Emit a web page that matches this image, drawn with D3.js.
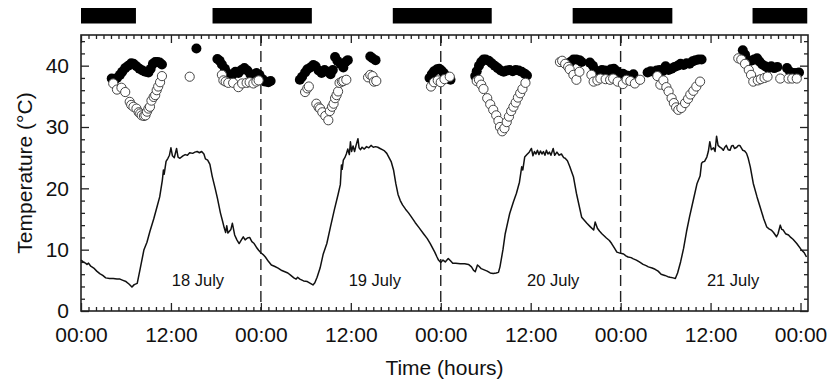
<!DOCTYPE html>
<html>
<head>
<meta charset="utf-8">
<script src="https://cdn.jsdelivr.net/npm/d3@7"></script>
<style>
  body { margin: 0; background: #fff; }
  text { font-family: "Liberation Sans", Arial, sans-serif; fill: #111; }
</style>
</head>
<body>
<svg id="chart" width="836" height="383"></svg>
<script>
// air temperature trace [hour, °C]
const airTemp = [
  [0,8.3],[0.3,8.0],[0.6,7.8],[0.8,7.6],[1.0,7.8],[1.3,7.3],[1.7,7.0],[2.1,6.5],[2.5,6.1],[2.9,5.8],[3.3,5.4],[3.8,5.3],[4.3,5.3],[4.8,5.2],[5.2,5.2],[5.6,5.0],[6.0,4.8],[6.4,4.4],[6.8,3.9],[7.1,4.3],[7.5,4.5],[7.9,6.9],[8.4,10.0],[8.8,11.2],[9.2,13.0],[9.7,15.0],[10.1,16.8],[10.5,18.6],[10.85,21.3],[11.0,23.0],[11.1,22.3],[11.35,24.4],[11.6,24.9],[11.8,25.4],[12.0,26.6],[12.2,25.3],[12.45,25.0],[12.75,26.5],[12.95,25.1],[13.2,24.9],[13.6,25.3],[13.9,25.5],[14.2,25.4],[14.5,25.8],[14.9,25.7],[15.2,25.9],[15.5,26.0],[15.8,25.8],[16.1,26.0],[16.4,25.6],[16.6,24.8],[16.9,24.6],[17.2,23.9],[17.5,22.0],[17.9,20.0],[18.2,18.4],[18.6,16.0],[18.9,14.6],[19.1,13.6],[19.3,12.8],[19.45,13.9],[19.6,12.7],[19.8,13.0],[20.0,13.3],[20.2,14.3],[20.5,12.4],[20.8,11.6],[21.1,11.0],[21.4,11.6],[21.65,12.1],[21.9,11.6],[22.2,11.9],[22.5,12.0],[22.8,11.3],[23.1,11.0],[23.4,10.4],[23.7,9.9],
  [24.0,9.5],[24.3,9.2],[24.6,8.8],[25.0,8.1],[25.4,7.5],[25.8,7.3],[26.3,7.0],[26.8,6.6],[27.2,6.4],[27.6,6.2],[28.0,5.8],[28.4,5.4],[28.7,5.2],[28.9,5.5],[29.2,5.2],[29.7,4.9],[30.2,4.8],[30.6,4.5],[30.95,4.25],[31.2,4.6],[31.5,5.5],[31.9,7.0],[32.3,9.2],[32.8,11.0],[33.3,13.8],[33.8,16.5],[34.3,19.0],[34.6,20.6],[34.75,23.8],[34.85,23.1],[35.0,24.6],[35.2,25.0],[35.4,25.6],[35.6,26.4],[35.8,25.5],[35.95,27.6],[36.1,26.0],[36.3,26.9],[36.5,26.0],[36.7,27.0],[36.95,28.1],[37.1,26.6],[37.3,26.3],[37.5,26.7],[37.8,26.4],[38.1,26.8],[38.4,26.6],[38.7,27.0],[39.0,26.7],[39.3,26.8],[39.6,26.7],[39.9,26.5],[40.2,26.3],[40.5,26.1],[40.8,25.7],[41.1,25.0],[41.4,24.3],[41.7,23.0],[42.0,20.8],[42.3,19.0],[42.6,18.0],[42.9,17.3],[43.3,16.6],[43.7,16.0],[44.1,15.3],[44.6,14.4],[45.1,13.6],[45.7,12.6],[46.2,11.8],[46.6,11.0],[46.9,10.3],[47.2,9.6],[47.5,8.8],[47.7,8.3],
  [48.0,7.9],[48.3,8.3],[48.6,8.0],[49.0,8.55],[49.3,8.2],[49.6,7.8],[50.0,7.8],[50.6,7.7],[51.2,7.7],[51.7,7.6],[52.1,7.2],[52.4,6.6],[52.6,6.4],[52.9,7.5],[53.1,7.3],[53.4,6.9],[53.8,6.7],[54.2,6.5],[54.6,6.2],[55.0,6.1],[55.4,6.2],[55.7,6.3],[55.9,7.2],[56.3,10.0],[56.6,12.6],[57.2,15.9],[57.7,17.8],[58.1,19.2],[58.5,21.0],[58.8,23.5],[58.95,23.0],[59.2,25.1],[59.5,25.5],[59.8,25.9],[60.1,26.5],[60.3,25.3],[60.5,26.0],[60.7,25.6],[60.9,26.2],[61.1,25.5],[61.3,26.1],[61.5,25.6],[61.7,26.0],[61.9,25.4],[62.1,26.2],[62.3,25.6],[62.5,25.9],[62.7,25.4],[63.0,26.5],[63.2,25.4],[63.5,25.9],[63.8,25.4],[64.1,25.6],[64.4,25.0],[64.6,24.9],[64.9,24.5],[65.2,23.6],[65.4,22.9],[65.7,21.9],[66.1,19.2],[66.8,15.3],[67.5,14.3],[67.9,13.8],[68.4,13.2],[68.6,14.5],[68.9,13.5],[69.2,13.0],[69.5,12.6],[70.1,11.9],[70.5,11.5],[70.8,11.0],[71.2,10.2],[71.5,9.6],
  [72.0,9.4],[72.4,9.3],[72.7,9.0],[73.0,8.8],[73.4,8.7],[73.7,8.5],[74.1,8.3],[74.5,8.0],[75.0,7.6],[75.4,7.4],[75.7,7.2],[76.2,7.0],[76.6,6.8],[77.0,6.5],[77.4,6.0],[77.9,5.8],[78.3,5.6],[78.6,5.5],[79.0,5.4],[79.3,5.3],[79.6,6.2],[80.0,8.0],[80.4,10.2],[80.8,13.0],[81.2,15.4],[81.7,18.1],[82.2,20.8],[82.6,22.0],[82.8,24.1],[82.95,24.3],[83.2,24.4],[83.5,25.1],[83.7,26.0],[83.9,27.6],[84.1,26.3],[84.4,26.6],[84.6,26.0],[84.8,28.5],[85.0,27.0],[85.25,26.7],[85.5,26.5],[85.7,26.2],[85.9,26.7],[86.1,27.0],[86.35,26.3],[86.6,26.2],[86.8,26.9],[87.0,27.0],[87.2,26.5],[87.5,26.7],[87.7,27.0],[87.9,27.0],[88.1,26.6],[88.3,26.2],[88.55,26.1],[88.8,25.7],[89.0,25.0],[89.3,23.5],[89.7,20.8],[90.2,18.6],[90.6,17.0],[91.1,15.0],[91.5,13.7],[91.8,13.4],[92.1,13.2],[92.4,12.8],[92.8,12.1],[93.0,12.6],[93.3,14.0],[93.5,13.3],[93.7,13.2],[94.0,12.6],[94.4,12.4],[94.7,12.0],[95.0,11.7],[95.5,11.0],[96.1,10.0],[96.5,9.5],[96.8,8.8]
];

// filled symbols [hour, °C]
const filledPts = [
  [4.1,37.9],[4.4,37.5],[4.8,38.0],[5.2,38.5],[5.5,39.0],[5.9,39.6],[6.3,40.0],[6.7,40.4],[7.0,40.3],[7.4,39.9],[7.8,39.5],[8.2,39.2],[8.6,39.0],[9.0,38.9],[9.3,39.5],[9.6,40.3],[9.9,40.6],[10.2,40.6],[10.5,40.5],[10.8,40.2],
  [15.4,42.8],
  [18.2,41.1],[18.5,40.8],[18.8,40.2],[19.2,39.5],[19.5,38.8],[19.9,38.0],[20.2,38.5],[20.6,39.0],[21.0,38.8],[21.4,39.3],[21.8,39.6],[22.2,39.2],[22.6,38.6],[23.0,38.5],[23.4,38.8],[23.8,38.5],[24.2,37.8],[24.6,37.4],[25.0,37.3],[25.3,37.5],
  [29.2,37.7],[29.5,38.2],[29.9,38.9],[30.2,39.4],[30.6,39.7],[31.0,40.1],[31.3,39.9],[31.7,39.2],[32.1,38.8],[32.5,39.3],[32.9,39.0],[33.3,38.6],[33.6,39.3],[33.9,41.4],[34.2,40.8],[34.6,40.3],[35.0,39.7],[35.3,40.6],[35.6,40.9],
  [38.6,41.5],[38.9,41.2],[39.3,40.9],
  [46.5,38.0],[46.8,38.6],[47.1,39.1],[47.5,39.4],[47.8,39.5],[48.1,39.2],[48.4,38.8],[48.7,38.3],[49.3,37.7],
  [52.6,38.3],[52.8,39.1],[53.1,40.0],[53.4,40.6],[53.7,41.0],[54.0,41.0],[54.4,40.8],[54.8,40.4],[55.2,40.0],[55.6,39.6],[56.0,39.2],[56.4,39.0],[56.8,39.2],[57.2,39.3],[57.6,39.1],[58.0,39.3],[58.4,39.2],[58.8,39.0],[59.2,38.7],[59.5,38.4],
  [65.3,40.6],[65.7,41.0],[66.1,41.0],[66.5,40.9],[66.8,40.6],
  [67.9,40.5],[68.3,40.0],[68.7,39.2],[69.1,38.9],[69.5,39.3],[69.9,39.2],[70.3,38.8],[70.7,39.4],[71.1,39.5],[71.5,39.1],[71.9,38.6],[72.3,38.7],[72.8,38.4],[73.3,38.3],[73.7,38.6],
  [75.6,38.9],[76.0,39.1],[76.4,39.0],[76.8,39.2],[77.2,39.3],[77.6,39.1],[78.0,39.9],[78.4,39.3],[78.8,39.5],[79.2,39.8],[79.6,40.0],[80.0,40.3],[80.4,40.1],[80.8,40.4],[81.2,40.3],[81.6,40.7],[82.0,40.9],[82.4,41.0],[82.8,41.0],
  [88.3,42.5],[88.6,41.8],[89.0,40.9],[89.4,40.8],[89.8,41.0],[90.2,41.2],[90.5,40.7],[90.9,40.2],[91.3,39.9],[91.7,39.6],[92.1,39.9],[92.5,39.6],[92.9,39.8],
  [94.2,39.6],[94.6,39.0],[95.0,38.8],[95.4,38.8],[95.8,38.9]
];

// open symbols [hour, °C]
const openPts = [
  [4.3,37.1],[4.8,36.1],[5.4,36.4],[5.9,35.7],[6.5,34.1],[6.7,33.6],[7.0,33.3],[7.4,33.0],[7.7,32.4],[7.9,32.2],[8.1,31.9],[8.4,31.8],[8.6,31.9],[8.8,32.5],[9.0,33.0],[9.2,33.3],[9.4,34.3],[9.7,34.9],[9.9,35.2],[10.1,36.0],[10.3,36.6],[10.55,37.3],[10.8,38.3],
  [14.5,38.2],
  [18.8,38.5],[19.0,37.6],[19.3,37.4],[19.65,37.2],[20.3,37.2],[21.0,36.5],[21.5,37.1],[22.1,37.2],[22.5,37.3],[23.0,37.1],[23.4,37.4],[23.7,37.6],
  [29.9,35.7],[30.2,36.3],[30.4,36.6],[31.4,33.8],[31.7,33.2],[31.9,33.0],[32.2,32.4],[32.6,31.8],[33.0,31.1],[33.2,32.6],[33.5,33.3],[33.7,33.8],[33.9,34.7],[34.1,35.2],[34.3,35.8],[34.5,37.2],[34.8,37.4],[35.0,37.5],[35.4,37.7],
  [38.3,38.1],[38.6,38.5],[38.9,38.3],[39.1,37.4],[39.4,37.5],
  [46.7,36.6],[47.1,37.3],[47.6,37.6],[48.0,37.3],[48.5,37.8],[49.2,38.2],
  [52.8,37.5],[53.1,37.7],[53.4,36.9],[53.7,36.2],[54.2,34.7],[54.6,33.7],[55.0,32.8],[55.4,31.9],[55.7,31.0],[55.9,30.0],[56.2,29.3],[56.5,29.8],[56.8,30.8],[57.1,31.7],[57.4,32.6],[57.7,33.3],[58.0,34.0],[58.3,34.8],[58.6,35.5],[58.9,36.2],[59.3,37.2],
  [63.9,40.6],[64.2,40.8],[64.6,40.3],[65.0,39.8],[65.2,39.4],[65.7,38.5],[66.1,37.7],[66.5,39.0],
  [68.1,38.5],[68.4,37.4],[68.9,37.6],[69.3,37.9],[70.0,37.8],[70.6,37.7],[71.0,37.9],[71.6,37.4],[72.3,37.0],[72.8,37.7],[73.3,37.5],[73.9,37.1],[74.6,37.7],
  [76.9,38.3],[77.3,36.9],[77.7,37.6],[78.1,36.5],[78.4,35.8],[78.8,34.7],[79.1,33.9],[79.4,33.2],[79.7,32.8],[80.1,33.1],[80.6,33.9],[81.0,34.6],[81.3,35.3],[81.7,35.9],[82.1,36.6],[82.6,37.4],
  [87.7,41.2],[88.1,41.0],[88.6,40.3],[89.1,39.3],[89.4,38.5],[89.7,37.4],[90.3,37.6],[90.7,37.8],[91.2,38.0],[91.6,38.2],[93.3,37.9],[94.4,37.9],[94.9,37.9],[95.5,37.9]
];

// dark periods (black bars above the plot), hours
const nightStart = [0, 17.55, 41.6, 65.6, 89.6];
const nightEnd   = [7.33, 30.8, 54.8, 78.9, 96.9];

// day labels
const dayLabels = ["18 July", "19 July", "20 July", "21 July"];
const dayLabelHour = [15.6, 39.2, 63.0, 87.0];
const dayLabelTemp = 4.1;

// midnight dividers
const midnights = [24, 48, 72];

// ticks
const xMajorTicks = [0, 12, 24, 36, 48, 60, 72, 84, 96];
const xTickLabels = ["00:00", "12:00", "00:00", "12:00", "00:00", "12:00", "00:00", "12:00", "00:00"];
const yMajorTicks = [0, 10, 20, 30, 40];

const svg = d3.select("#chart"),
      margin = {top: 35, right: 28, bottom: 72, left: 81},
      width = +svg.attr("width") - margin.left - margin.right,
      height = +svg.attr("height") - margin.top - margin.bottom;

const g = svg.append("g").attr("transform", `translate(${margin.left},${margin.top})`);

const x = d3.scaleLinear().domain([0, 97]).range([0, width]);
const y = d3.scaleLinear().domain([0, 45]).range([height, 0]);

const ink = "#222";

// night bars
svg.selectAll("rect.night")
  .data(nightStart)
  .enter().append("rect")
    .attr("class", "night")
    .attr("x", (d, i) => margin.left + x(d))
    .attr("y", 8)
    .attr("width", (d, i) => x(nightEnd[i]) - x(d))
    .attr("height", 15.5)
    .attr("fill", "#000");

// axes (ticks point inward)
function styleAxis(sel) {
  sel.select(".domain").remove();
  sel.selectAll("line").attr("stroke", ink).attr("stroke-width", 1.3);
  sel.selectAll("text").style("font-size", "21px").attr("fill", "#111")
     .style("font-family", "'Liberation Sans', Arial, sans-serif");
}

const xMinor = d3.range(0, 97, 1).filter(d => d % 12 !== 0);
const yMinor = d3.range(0, 45, 2).filter(d => d % 10 !== 0);

g.append("g").attr("transform", `translate(0,${height})`)
  .call(d3.axisBottom(x).tickValues(xMinor).tickSize(-4).tickFormat(""))
  .call(styleAxis);
g.append("g").attr("transform", `translate(0,${height})`)
  .call(d3.axisBottom(x).tickValues(xMajorTicks).tickSize(-8).tickPadding(16)
        .tickFormat((d, i) => xTickLabels[i]))
  .call(styleAxis);
g.append("g")
  .call(d3.axisTop(x).tickValues(xMinor).tickSize(-4).tickFormat(""))
  .call(styleAxis);
g.append("g")
  .call(d3.axisTop(x).tickValues(xMajorTicks).tickSize(-8).tickFormat(""))
  .call(styleAxis);

g.append("g")
  .call(d3.axisLeft(y).tickValues(yMinor).tickSize(-4).tickFormat(""))
  .call(styleAxis);
g.append("g")
  .call(d3.axisLeft(y).tickValues(yMajorTicks).tickSize(-8).tickPadding(12).tickFormat(d3.format("d")))
  .call(styleAxis);
g.append("g").attr("transform", `translate(${width},0)`)
  .call(d3.axisRight(y).tickValues(yMinor).tickSize(-4).tickFormat(""))
  .call(styleAxis);
g.append("g").attr("transform", `translate(${width},0)`)
  .call(d3.axisRight(y).tickValues(yMajorTicks).tickSize(-8).tickFormat(""))
  .call(styleAxis);

// frame
g.append("rect")
  .attr("width", width).attr("height", height)
  .attr("fill", "none").attr("stroke", ink).attr("stroke-width", 1.6);

// midnight dashed lines
g.selectAll("line.midnight")
  .data(midnights)
  .enter().append("line")
    .attr("class", "midnight")
    .attr("x1", d => x(d)).attr("x2", d => x(d))
    .attr("y1", 0).attr("y2", height)
    .attr("stroke", ink).attr("stroke-width", 1.4)
    .attr("stroke-dasharray", "11,5");

// air temperature line
g.append("path")
  .datum(airTemp)
  .attr("fill", "none")
  .attr("stroke", "#111")
  .attr("stroke-width", 1.5)
  .attr("stroke-linejoin", "round")
  .attr("d", d3.line().x(d => x(d[0])).y(d => y(d[1])));

// filled then open symbols
g.selectAll("circle.filled")
  .data(filledPts)
  .enter().append("circle")
    .attr("class", "filled")
    .attr("cx", d => x(d[0])).attr("cy", d => y(d[1]))
    .attr("r", 5)
    .attr("fill", "#000");

g.selectAll("circle.open")
  .data(openPts)
  .enter().append("circle")
    .attr("class", "open")
    .attr("cx", d => x(d[0])).attr("cy", d => y(d[1]))
    .attr("r", 4.6)
    .attr("fill", "#fff")
    .attr("stroke", "#444")
    .attr("stroke-width", 1);

// day labels
g.selectAll("text.day")
  .data(dayLabels)
  .enter().append("text")
    .attr("class", "day")
    .attr("x", (d, i) => x(dayLabelHour[i]))
    .attr("y", y(dayLabelTemp))
    .attr("text-anchor", "middle")
    .style("font-size", "16.5px")
    .text(d => d);

// axis titles
svg.append("text")
  .attr("x", margin.left + width / 2)
  .attr("y", 375)
  .attr("text-anchor", "middle")
  .style("font-size", "21px")
  .text("Time (hours)");

svg.append("text")
  .attr("transform", `translate(32,${margin.top + height / 2}) rotate(-90)`)
  .attr("text-anchor", "middle")
  .style("font-size", "21px")
  .text("Temperature (°C)");
</script>
</body>
</html>
